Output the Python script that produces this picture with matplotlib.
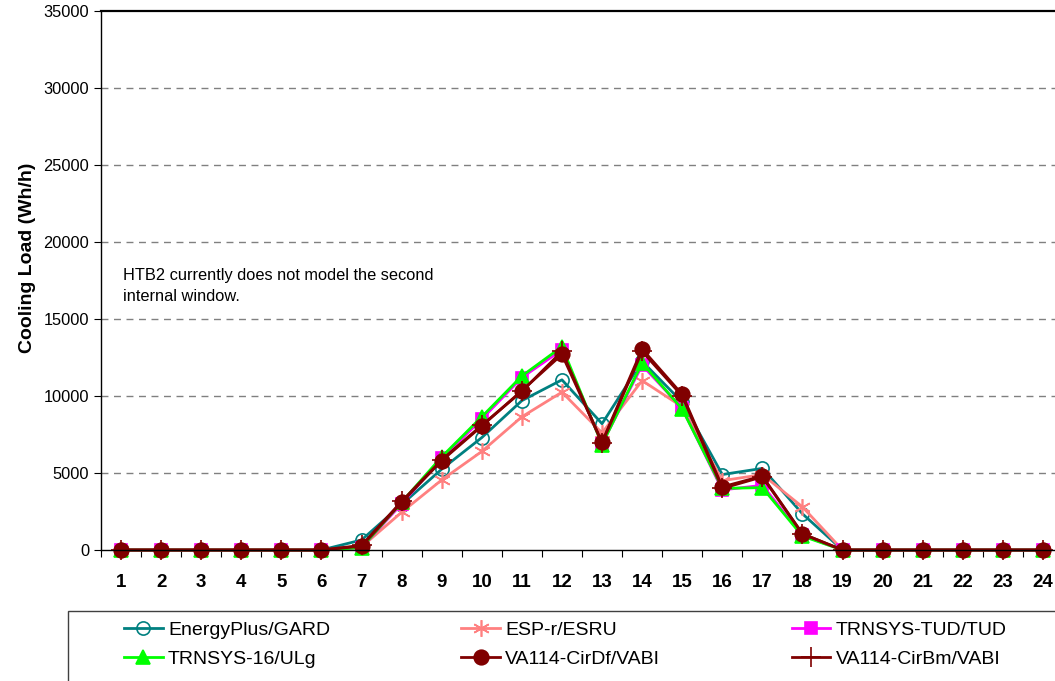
import matplotlib.pyplot as plt
from matplotlib.patches import Rectangle

hours = list(range(1, 25))

energyplus = [0, 0, 0, 0, 0, 0, 650, 2950, 5250, 7300, 9700, 11050, 8200, 12250,
              9600, 4900, 5300, 2350, 0, 0, 0, 0, 0, 0]
esp_r = [0, 0, 0, 0, 0, 0, 200, 2450, 4550, 6400, 8650, 10250, 7600, 11000,
         9300, 4500, 4900, 2800, 0, 0, 0, 0, 0, 0]
trnsys_tud = [0, 0, 0, 0, 0, 0, 150, 3000, 5950, 8500, 11200, 13000, 6900, 12000,
              9200, 3900, 4200, 950, 0, 0, 0, 0, 0, 0]
trnsys_16 = [0, 0, 0, 0, 0, 0, 150, 3100, 6050, 8650, 11300, 13200, 6850, 12150,
             9150, 4000, 4050, 900, 0, 0, 0, 0, 0, 0]
va114_cirdf = [0, 0, 0, 0, 0, 0, 250, 3100, 5800, 8050, 10350, 12700, 7000, 13050,
               10100, 4100, 4800, 1050, 0, 0, 0, 0, 0, 0]
va114_cirbm = [0, 0, 0, 0, 0, 0, 300, 3150, 5850, 8100, 10300, 12900, 6950, 12900,
               10000, 4000, 4750, 1050, 0, 0, 0, 0, 0, 0]

series = [
    ("EnergyPlus/GARD", energyplus, "#008080", "o", 9.5, "none"),
    ("ESP-r/ESRU", esp_r, "#FF8080", (6, 2, 0), 12, "#FF8080"),
    ("TRNSYS-TUD/TUD", trnsys_tud, "#FF00FF", "s", 8, "#FF00FF"),
    ("TRNSYS-16/ULg", trnsys_16, "#00FF00", "^", 10, "#00FF00"),
    ("VA114-CirDf/VABI", va114_cirdf, "#800000", "o", 10.5, "#800000"),
    ("VA114-CirBm/VABI", va114_cirbm, "#800000", "+", 15, "#800000"),
]

plt.rcParams["font.family"] = ["Liberation Sans", "DejaVu Sans"]

fig = plt.figure(figsize=(10.55, 6.81), dpi=100)
ax = fig.add_axes([101 / 1055, 1 - 550 / 681, 962 / 1055, 539 / 681])

handles = []
for label, values, color, marker, size, face in series:
    line, = ax.plot(hours, values, color=color, marker=marker, markersize=size,
                    markerfacecolor=face, markeredgecolor=color, markeredgewidth=1.2,
                    linewidth=2, label=label, clip_on=False)
    handles.append(line)

ax.set_xlim(0.5, 24.5)
ax.set_ylim(0, 35000)
ax.set_yticks(range(0, 35001, 5000))
ax.set_xticks([h + 0.5 for h in range(0, 25)])
ax.set_xticklabels([])
ax.set_xticks(hours, minor=True)
ax.set_xticklabels([str(h) for h in hours], minor=True, fontsize=13.5, fontweight="bold")
ax.tick_params(axis="x", which="minor", length=0, pad=17)
ax.tick_params(axis="x", which="major", length=5, direction="out")
ax.tick_params(axis="y", length=5, direction="out", labelsize=11.8)
for y in range(5000, 35000, 5000):
    ax.axhline(y, color="#808080", linestyle=(0, (5, 4)), linewidth=1, zorder=0)
for side in ["left", "bottom"]:
    ax.spines[side].set_linewidth(1)
ax.spines["top"].set_linewidth(1.6)
ax.spines["right"].set_visible(False)
ax.set_ylabel("Cooling Load (Wh/h)", fontsize=14, fontweight="bold")
ax.yaxis.set_label_coords(-0.068, (550 - 258) / 539)

fig.text(123 / 1055, 1 - 286 / 681,
         "HTB2 currently does not model the second\ninternal window.",
         fontsize=11.8, va="center", ha="left", linespacing=1.55)

fig.patches.append(Rectangle((68 / 1055, -0.05), 1.1, 1 - 611 / 681 + 0.05,
                             transform=fig.transFigure, fill=False,
                             edgecolor="#404040", linewidth=1))
# legend fills columns first, so order handles to read row by row
legend_order = [0, 3, 1, 4, 2, 5]
fig.legend(handles=[handles[i] for i in legend_order], loc="upper left", ncol=3,
           frameon=False, bbox_to_anchor=(124 / 1055, 1 - 621 / 681),
           borderpad=0, borderaxespad=0, fontsize=14, handlelength=2.0,
           handletextpad=0.26, columnspacing=6.75, labelspacing=0.62)

plt.savefig("out.png", dpi=100)
